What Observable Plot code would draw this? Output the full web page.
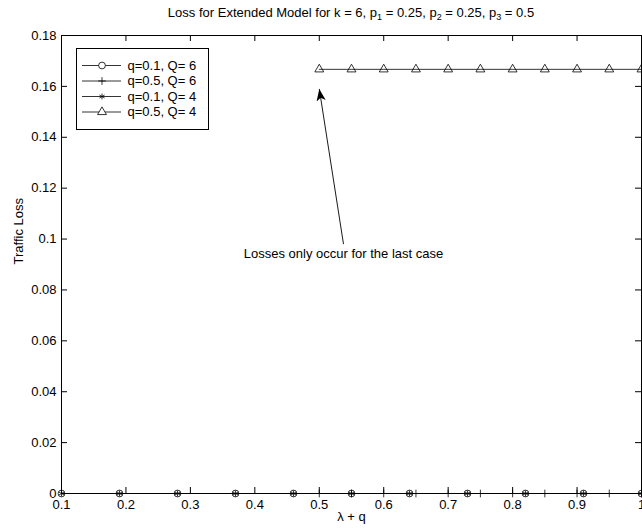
<!DOCTYPE html>
<html>
<head>
<meta charset="utf-8">
<script src="https://cdn.jsdelivr.net/npm/d3@7"></script>
<script src="https://cdn.jsdelivr.net/npm/@observablehq/plot@0.6"></script>
<style>
  html, body { margin: 0; padding: 0; background: #fff; overflow: hidden; }
  #chart { position: relative; width: 642px; height: 529px; font-family: "Liberation Sans", Arial, Helvetica, sans-serif; color: #000; }
  #title { position: absolute; top: 5px; left: 351px; transform: translateX(-50%); white-space: nowrap; font-size: 13px; line-height: 15px; }
  #title sub { font-size: 9px; vertical-align: -3px; line-height: 0; }
  #plot { position: absolute; top: 27px; left: 0; }
  #legend { position: absolute; left: 76px; top: 48px; }
</style>
</head>
<body>
<div id="chart">
  <div id="title">Loss for Extended Model for k = 6, p<sub>1</sub> = 0.25, p<sub>2</sub> = 0.25, p<sub>3</sub> = 0.5</div>
  <div id="plot"></div>
  <div id="legend"></div>
</div>
<script>
// λ + q values for the two arrival settings
const xQ01 = [0.1, 0.19, 0.28, 0.37, 0.46, 0.55, 0.64, 0.73, 0.82, 0.91, 1.0];
const xQ05 = [0.5, 0.55, 0.6, 0.65, 0.7, 0.75, 0.8, 0.85, 0.9, 0.95, 1.0];

// Traffic loss for each (q, Q) combination
const lossQ01Cap6 = [0, 0, 0, 0, 0, 0, 0, 0, 0, 0, 0];
const lossQ05Cap6 = [0, 0, 0, 0, 0, 0, 0, 0, 0, 0, 0];
const lossQ01Cap4 = [0, 0, 0, 0, 0, 0, 0, 0, 0, 0, 0];
const lossQ05Cap4 = [0.1667, 0.1667, 0.1667, 0.1667, 0.1667, 0.1667, 0.1667, 0.1667, 0.1667, 0.1667, 0.1667];

// Axis ticks
const xTicks = [0.1, 0.2, 0.3, 0.4, 0.5, 0.6, 0.7, 0.8, 0.9, 1.0];
const xTickLabels = ["0.1", "0.2", "0.3", "0.4", "0.5", "0.6", "0.7", "0.8", "0.9", "1"];
const yTicks = [0, 0.02, 0.04, 0.06, 0.08, 0.1, 0.12, 0.14, 0.16, 0.18];
const yTickLabels = ["0", "0.02", "0.04", "0.06", "0.08", "0.1", "0.12", "0.14", "0.16", "0.18"];

// Legend entries
const seriesLabels = ["q=0.1, Q= 6", "q=0.5, Q= 6", "q=0.1, Q= 4", "q=0.5, Q= 4"];
const seriesSymbols = ["circle", "plus", "asterisk", "triangle"];

const symbolRadius = {circle: 3.4, plus: 2.6, asterisk: 2.8, triangle: 3.3};
const series = [
  {x: xQ01, y: lossQ01Cap6, symbol: "circle"},
  {x: xQ05, y: lossQ05Cap6, symbol: "plus"},
  {x: xQ01, y: lossQ01Cap4, symbol: "asterisk"},
  {x: xQ05, y: lossQ05Cap4, symbol: "triangle"}
];

const toRows = (xs, ys) => xs.map((x, i) => ({x, y: ys[i]}));
const xLabel = new Map(xTicks.map((t, i) => [t, xTickLabels[i]]));
const yLabel = new Map(yTicks.map((t, i) => [t, yTickLabels[i]]));

// Filled, notched arrowhead for the annotation
function arrowHead(color) {
  const m = d3.create("svg:marker")
    .attr("viewBox", "-12 -5 12 10")
    .attr("markerWidth", 12)
    .attr("markerHeight", 10)
    .attr("markerUnits", "userSpaceOnUse")
    .attr("orient", "auto")
    .attr("refX", 0)
    .attr("refY", 0);
  m.append("path")
    .attr("d", "M0,0L-12,-4.6L-9,0L-12,4.6Z")
    .attr("fill", color)
    .attr("stroke", "none");
  return m.node();
}

const note = {text: "Losses only occur for the last case", x: 0.5376, y: 0.094, fromX: 0.5376, fromY: 0.098, toX: 0.5, toY: 0.159};

const W = 642, H = 502, mL = 61, mR = 1, mT = 8, mB = 36;
const innerW = W - mL - mR, innerH = H - mT - mB, tick = 6;

const marks = [
  Plot.frame({stroke: "black", strokeWidth: 1}),
  // inward ticks on all four sides
  Plot.tickX(xTicks, {x: d => d, insetTop: innerH - tick, stroke: "black"}),
  Plot.tickX(xTicks, {x: d => d, insetBottom: innerH - tick, stroke: "black"}),
  Plot.tickY(yTicks, {y: d => d, insetRight: innerW - tick, stroke: "black"}),
  Plot.tickY(yTicks, {y: d => d, insetLeft: innerW - tick, stroke: "black"}),
  Plot.axisX(xTicks, {anchor: "bottom", tickSize: 0, tickPadding: 6, tickFormat: d => xLabel.get(d), fontSize: 13, label: null}),
  Plot.axisY(yTicks, {anchor: "left", tickSize: 0, tickPadding: 5, tickFormat: d => yLabel.get(d), fontSize: 13, label: null}),
  Plot.text(["λ + q"], {frameAnchor: "bottom", dy: 27, fontSize: 13, fill: "black"}),
  Plot.text(["Traffic Loss"], {frameAnchor: "left", dx: -43, rotate: -90, fontSize: 13, fill: "black"})
];

for (const s of series) {
  marks.push(Plot.line(toRows(s.x, s.y), {x: "x", y: "y", stroke: "black", strokeWidth: 0.8}));
}
for (const s of series) {
  marks.push(Plot.dot(toRows(s.x, s.y), {x: "x", y: "y", symbol: () => s.symbol, r: symbolRadius[s.symbol], stroke: "black", fill: "none", strokeWidth: 0.8}));
}

marks.push(
  Plot.link([note], {x1: "fromX", y1: "fromY", x2: "toX", y2: "toY", stroke: "black", strokeWidth: 0.9, markerEnd: arrowHead}),
  Plot.text([note], {x: "x", y: "y", text: "text", fontSize: 13, fill: "black"})
);

const chart = Plot.plot({
  width: W,
  height: H,
  marginLeft: mL,
  marginRight: mR,
  marginTop: mT,
  marginBottom: mB,
  style: {fontFamily: "'Liberation Sans', Arial, Helvetica, sans-serif", fontSize: "13px", color: "black", background: "white", overflow: "visible"},
  x: {domain: [0.1, 1], axis: null},
  y: {domain: [0, 0.18], axis: null},
  symbol: {type: "identity"},
  marks
});
document.getElementById("plot").appendChild(chart);

// Legend box drawn as its own small plot
const LW = 132, LH = 81;
const legendRows = seriesLabels.map((label, i) => ({label, symbol: seriesSymbols[i], row: 17 + i * 15.5}));
const legend = Plot.plot({
  width: LW,
  height: LH,
  margin: 0,
  style: {fontFamily: "'Liberation Sans', Arial, Helvetica, sans-serif", fontSize: "13px", color: "black", background: "white", overflow: "visible"},
  x: {domain: [0, LW], range: [0, LW], axis: null},
  y: {domain: [0, LH], range: [0, LH], axis: null},
  symbol: {type: "identity"},
  marks: [
    Plot.frame({stroke: "black", strokeWidth: 1}),
    Plot.ruleY(legendRows, {y: "row", x1: 6, x2: 45, stroke: "black", strokeWidth: 0.8}),
    ...seriesSymbols.map(sym => Plot.dot(legendRows.filter(d => d.symbol === sym), {x: () => 25.5, y: "row", symbol: "symbol", r: symbolRadius[sym], stroke: "black", fill: "white", strokeWidth: 0.8})),
    Plot.text(legendRows, {x: () => 51, y: "row", text: "label", textAnchor: "start", fontSize: 13, fill: "black"})
  ]
});
document.getElementById("legend").appendChild(legend);
</script>
</body>
</html>
